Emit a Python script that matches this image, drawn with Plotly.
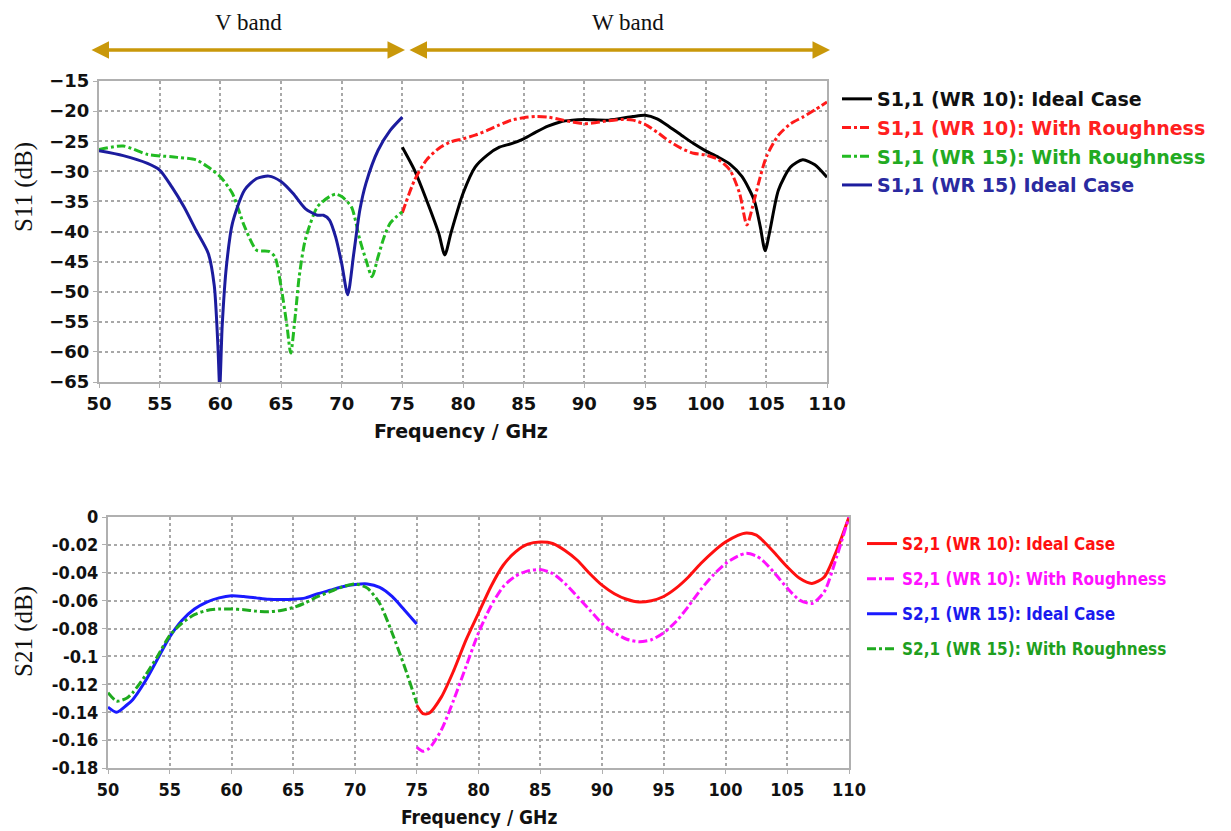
import plotly.graph_objects as go

# ---------------- Data: S11 (top chart) ----------------
f_wr15_s11_ideal = [50, 52, 54, 55, 56, 57, 58, 59, 59.5, 59.8, 59.95, 60.15, 60.5, 61, 62, 63, 64, 65, 66, 67, 68, 68.5, 69, 69.5, 70, 70.5, 71, 71.5, 72, 73, 74, 75]
s11_wr15_ideal = [-26.6, -27.4, -28.7, -29.8, -32.6, -35.9, -39.8, -43.6, -49.0, -59.0, -66.0, -55.8, -45.8, -38.6, -33.1, -31.2, -30.8, -31.7, -33.7, -36.2, -37.3, -37.3, -38.1, -40.9, -45.3, -50.5, -43.6, -36.4, -32.0, -26.5, -23.2, -21.0]

f_wr15_s11_rough = [50, 52, 54, 56, 58, 59, 60, 61, 62, 63, 64, 64.5, 65, 65.5, 65.8, 66.2, 66.5, 67, 68, 69, 69.5, 70, 70.8, 71.5, 72, 72.5, 73, 73.5, 74, 75]
s11_wr15_rough = [-26.4, -25.8, -27.2, -27.6, -28.1, -29.3, -30.9, -33.7, -39.2, -43.1, -43.3, -44.2, -49.1, -55.8, -60.2, -53.5, -47.5, -41.4, -35.9, -34.2, -33.8, -34.2, -35.9, -41.4, -44.7, -47.5, -44.2, -40.9, -38.6, -36.7]

f_wr10_s11_ideal = [75, 76, 77, 78, 78.5, 79, 80, 81, 82, 83, 84, 85, 86, 87, 88, 89, 90, 92, 94, 95, 96, 97, 98, 99, 100, 101, 102, 103, 104, 104.5, 104.9, 105.3, 106, 107, 108, 109, 110]
s11_wr10_ideal = [-26.0, -29.8, -34.8, -40.3, -43.9, -40.3, -33.7, -29.3, -27.3, -26.0, -25.4, -24.6, -23.5, -22.5, -21.8, -21.5, -21.4, -21.5, -20.9, -20.7, -21.3, -22.6, -24.0, -25.4, -26.6, -27.6, -28.8, -30.9, -34.8, -39.2, -43.2, -39.8, -33.1, -29.3, -28.1, -28.9, -31.0]

f_wr10_s11_rough = [75, 76, 77, 78, 79, 80, 81, 82, 83, 84, 85, 86, 87, 88, 89, 90, 91, 92, 93, 94, 95, 96, 97, 98, 99, 100, 101, 102, 102.8, 103.4, 104, 104.5, 105, 106, 107, 108, 109, 110]
s11_wr10_rough = [-36.9, -31.5, -28.1, -26.2, -25.1, -24.6, -24.0, -23.2, -22.3, -21.5, -21.1, -20.9, -21.0, -21.4, -21.8, -22.1, -21.9, -21.6, -21.4, -21.5, -22.2, -23.5, -25.0, -26.2, -27.0, -27.3, -28.0, -29.8, -33.7, -38.9, -34.8, -30.9, -27.6, -24.0, -22.1, -21.0, -19.8, -18.5]

# ---------------- Data: S21 (bottom chart) ----------------
f_wr15_s21 = [50, 50.7, 51.5, 52, 53, 54, 55, 56, 57, 58, 59, 60, 61, 62, 63, 64, 65, 66, 67, 68, 69, 70, 71, 72, 73, 74, 75]
s21_wr15_ideal = [-0.1363, -0.140, -0.135, -0.131, -0.118, -0.102, -0.086, -0.074, -0.066, -0.061, -0.058, -0.0565, -0.057, -0.058, -0.059, -0.0592, -0.059, -0.058, -0.055, -0.0525, -0.050, -0.0484, -0.048, -0.0505, -0.057, -0.0667, -0.0768]
s21_wr15_rough = [-0.126, -0.132, -0.130, -0.126, -0.114, -0.100, -0.085, -0.076, -0.070, -0.067, -0.066, -0.066, -0.0665, -0.0675, -0.068, -0.067, -0.065, -0.0615, -0.057, -0.0535, -0.050, -0.048, -0.051, -0.062, -0.083, -0.107, -0.1335]

f_wr10_s21 = [75, 75.5, 76, 77, 78, 79, 80, 81, 82, 83, 84, 85, 86, 87, 88, 89, 90, 91, 92, 93, 94, 95, 96, 97, 98, 99, 100, 101, 101.7, 102.5, 103, 104, 105, 106, 107, 108, 109, 110]
s21_wr10_ideal = [-0.135, -0.141, -0.1407, -0.129, -0.110, -0.088, -0.069, -0.050, -0.0346, -0.025, -0.0195, -0.018, -0.019, -0.024, -0.031, -0.0405, -0.0489, -0.055, -0.059, -0.061, -0.060, -0.057, -0.051, -0.043, -0.0334, -0.025, -0.018, -0.0131, -0.0114, -0.013, -0.0167, -0.026, -0.0358, -0.044, -0.0477, -0.043, -0.024, 0.0]
s21_wr10_rough = [-0.165, -0.168, -0.166, -0.1526, -0.131, -0.107, -0.083, -0.064, -0.050, -0.0424, -0.0386, -0.0377, -0.0405, -0.0477, -0.057, -0.0667, -0.0763, -0.083, -0.0877, -0.0894, -0.088, -0.083, -0.075, -0.064, -0.052, -0.0417, -0.0334, -0.028, -0.026, -0.028, -0.031, -0.0405, -0.051, -0.0596, -0.062, -0.0536, -0.0286, 0.0]

x_ticks = [50, 55, 60, 65, 70, 75, 80, 85, 90, 95, 100, 105, 110]
s11_ticks = [-15, -20, -25, -30, -35, -40, -45, -50, -55, -60, -65]
s21_ticks = [0, -0.02, -0.04, -0.06, -0.08, -0.1, -0.12, -0.14, -0.16, -0.18]
s21_ticktext = ["0", "-0.02", "-0.04", "-0.06", "-0.08", "-0.1", "-0.12", "-0.14", "-0.16", "-0.18"]

W, H = 1231, 831
def px(x):
    return x / W
def py(y):
    return 1 - y / H

fig = go.Figure()

def leg(text, color):
    return f"<span style='color:{color}'>{text}</span>"

# Top traces (legend order)
fig.add_trace(go.Scatter(x=f_wr10_s11_ideal, y=s11_wr10_ideal, mode="lines",
    line=dict(color="#000000", width=3, shape="spline", smoothing=0.7),
    name=leg("S1,1 (WR 10): Ideal Case", "#111111"), xaxis="x", yaxis="y", legend="legend", legendgroup="a"))
fig.add_trace(go.Scatter(x=f_wr10_s11_rough, y=s11_wr10_rough, mode="lines",
    line=dict(color="#ff1a1a", width=3, dash="dashdot", shape="spline", smoothing=0.7),
    name=leg("S1,1 (WR 10): With Roughness", "#ff2020"), xaxis="x", yaxis="y", legend="legend", legendgroup="b"))
fig.add_trace(go.Scatter(x=f_wr15_s11_rough, y=s11_wr15_rough, mode="lines",
    line=dict(color="#22bb22", width=3, dash="dashdot", shape="spline", smoothing=0.7),
    name=leg("S1,1 (WR 15): With Roughness", "#22aa22"), xaxis="x", yaxis="y", legend="legend", legendgroup="c"))
fig.add_trace(go.Scatter(x=f_wr15_s11_ideal, y=s11_wr15_ideal, mode="lines",
    line=dict(color="#1c1c9e", width=3, shape="spline", smoothing=0.7),
    name=leg("S1,1 (WR 15) Ideal Case", "#2a2aa0"), xaxis="x", yaxis="y", legend="legend", legendgroup="d"))

# Bottom traces (legend order)
fig.add_trace(go.Scatter(x=f_wr10_s21, y=s21_wr10_ideal, mode="lines",
    line=dict(color="#ff1010", width=3, shape="spline", smoothing=0.7),
    name=leg("S2,1 (WR 10): Ideal Case", "#ff1010"), xaxis="x2", yaxis="y2", legend="legend2", legendgroup="e"))
fig.add_trace(go.Scatter(x=f_wr10_s21, y=s21_wr10_rough, mode="lines",
    line=dict(color="#ff10ff", width=3, dash="dashdot", shape="spline", smoothing=0.7),
    name=leg("S2,1 (WR 10): With Roughness", "#ff10ff"), xaxis="x2", yaxis="y2", legend="legend2", legendgroup="f"))
fig.add_trace(go.Scatter(x=f_wr15_s21, y=s21_wr15_ideal, mode="lines",
    line=dict(color="#1a1aff", width=3, shape="spline", smoothing=0.7),
    name=leg("S2,1 (WR 15): Ideal Case", "#1a1aee"), xaxis="x2", yaxis="y2", legend="legend2", legendgroup="g"))
fig.add_trace(go.Scatter(x=f_wr15_s21, y=s21_wr15_rough, mode="lines",
    line=dict(color="#1faa1f", width=3, dash="dashdot", shape="spline", smoothing=0.7),
    name=leg("S2,1 (WR 15): With Roughness", "#1f9f1f"), xaxis="x2", yaxis="y2", legend="legend2", legendgroup="h"))

tick_font_top = dict(family="DejaVu Sans", size=18, color="#111111", weight="bold")
tick_font_bot = dict(family="DejaVu Sans Condensed, DejaVu Sans", size=18, color="#111111", weight="bold")

axis_common = dict(showgrid=True, gridcolor="#a8a8a8", griddash="dot", gridwidth=1.5,
                   showline=True, linecolor="#b0b0b0", linewidth=2, mirror=True,
                   ticks="outside", ticklen=4, tickcolor="#b0b0b0", zeroline=False,
                   automargin=False)

fig.update_layout(
    width=W, height=H, margin=dict(l=0, r=0, t=0, b=0, autoexpand=False),
    paper_bgcolor="white", plot_bgcolor="white",
    xaxis=dict(domain=[px(99), px(827)], range=[50, 110], tickvals=x_ticks,
               tickfont=tick_font_top, anchor="y", **axis_common),
    yaxis=dict(domain=[py(382), py(81)], range=[-65, -15], tickvals=s11_ticks,
               tickfont=tick_font_top, anchor="x", **axis_common),
    xaxis2=dict(domain=[px(108), px(849)], range=[50, 110], tickvals=x_ticks,
                tickfont=tick_font_bot, anchor="y2", **axis_common),
    yaxis2=dict(domain=[py(768), py(517)], range=[-0.18, 0], tickvals=s21_ticks, ticktext=s21_ticktext,
                tickfont=tick_font_bot, anchor="x2", **axis_common),
    legend=dict(x=px(837), y=py(80), xanchor="left", yanchor="top",
                font=dict(family="DejaVu Sans", size=19, weight="bold"),
                bgcolor="rgba(0,0,0,0)", tracegroupgap=1, itemwidth=30),
    legend2=dict(x=px(862), y=py(526), xanchor="left", yanchor="top",
                 font=dict(family="DejaVu Sans Condensed, DejaVu Sans", size=17, weight="bold"),
                 bgcolor="rgba(0,0,0,0)", tracegroupgap=10, itemwidth=30),
    showlegend=True,
)

gold = "#c9980a"
def label(text, x, y, font, angle=0):
    return dict(text=text, x=px(x), y=py(y), xref="paper", yref="paper", showarrow=False,
                xanchor="center", yanchor="middle", textangle=angle, font=font)

serif = dict(family="Liberation Serif", size=23, color="#111111")
annotations = [
    label("V band", 248, 22, serif),
    label("W band", 628, 22, serif),
    dict(text="", x=px(405), y=py(50), xref="paper", yref="paper", ax=-315, ay=0,
         axref="pixel", ayref="pixel", showarrow=True, arrowhead=2, arrowside="end+start",
         arrowsize=1, arrowwidth=3.5, arrowcolor=gold, standoff=0, startstandoff=0),
    dict(text="", x=px(830), y=py(50), xref="paper", yref="paper", ax=-422, ay=0,
         axref="pixel", ayref="pixel", showarrow=True, arrowhead=2, arrowside="end+start",
         arrowsize=1, arrowwidth=3.5, arrowcolor=gold, standoff=0, startstandoff=0),
    label("S11 (dB)", 24, 187, dict(family="Liberation Serif", size=25, color="#111111"), -90),
    label("S21 (dB)", 24, 632, dict(family="Liberation Serif", size=25, color="#111111"), -90),
    label("<b>Frequency / GHz</b>", 461, 431, dict(family="DejaVu Sans", size=19, color="#111111")),
    label("<b>Frequency / GHz</b>", 479, 817, dict(family="DejaVu Sans Condensed, DejaVu Sans", size=19, color="#111111")),
]
fig.update_layout(annotations=annotations)

fig.write_html("out.html")
